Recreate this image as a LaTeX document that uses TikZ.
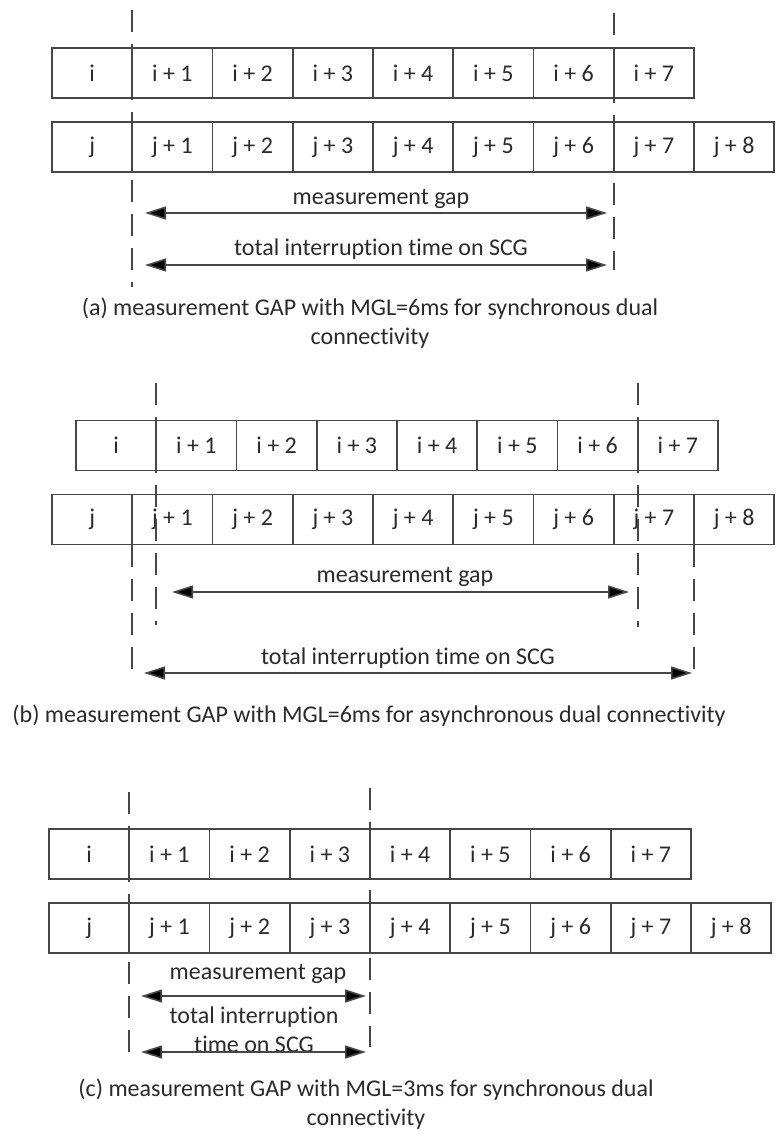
\documentclass[tikz,border=0pt]{standalone}
\usepackage{fontspec}
\setmainfont{Carlito}[Ligatures=NoCommon]
\usetikzlibrary{arrows.meta,positioning}
\definecolor{rim}{HTML}{474747}
\definecolor{ink}{HTML}{2A2A2A}
\newcommand{\slotrow}[5]{% name, letter, left edge, centre y, last index
  \node[slot] (#1-0) at ({#3+40.125},#4) {#2};
  \foreach \k in {1,...,#5}
    \node[slot] (#1-\k) at ({#3+80.25*(\k+0.5)},#4) {#2 + \k};
}
\tikzset{
  every picture/.style = {
    x = 1pt,
    y = -1pt,
    >={Triangle[length=21pt,width=13pt]},
  }
  ,
  slot/.style = {
    rectangle,
    draw = rim,
    line width = 1.6pt,
    minimum width = 80.25pt,
    minimum height = 50pt,
    inner sep = 0pt,
    outer sep = 0pt,
    text = ink,
    font = \fontsize{24}{29}\selectfont
  }
  , % dashed marks
  guide/.style = {
    draw = rim,
    line width = 1.6pt,
    dash pattern = on 22pt off 12pt
  }
  , % gap arrows
  span/.style = {
    <->,
    draw = rim,
    line width = 1.6pt,
    arrows = {Triangle[length=21pt,width=13pt,fill=black]-Triangle[length=21pt,width=13pt,fill=black]}
  }
  , % texts
  lbl/.style = {
    text = ink,
    font = \fontsize{24}{29}\selectfont,
    align = center,
    inner sep = 0pt
  }
}

\begin{document}
\begin{tikzpicture}
  \useasboundingbox (0,0) rectangle (779,1139);

  % (a) synchronous, MGL=6ms
  \slotrow{ai}{i}{52}{73}{7}
  \slotrow{aj}{j}{52}{147}{8}
  \coordinate (aL1) at (ai-1.west |- 0,10);
  \coordinate (aL2) at (ai-1.west |- 0,287);
  \coordinate (aR1) at (ai-7.west |- 0,13);
  \coordinate (aR2) at (ai-7.west |- 0,270);
  \draw[guide] (aL1) -- (aL2);
  \draw[guide] (aR1) -- (aR2);
  \coordinate (aG1) at (145,213);
  \coordinate (aG2) at (607,213);
  \coordinate (aT1) at (145,265);
  \coordinate (aT2) at (607,265);
  \node[lbl] (agap) at (381,199) {measurement gap};
  \node[lbl] (atot) at (381,249) {total interruption time on SCG};
  \path (aG1) edge[span] (aG2);
  \path (aT1) edge[span] (aT2);
  \node[lbl] (acap) at (370,323) {(a) measurement GAP with MGL=6ms for synchronous dual\\connectivity};

  % (b) asynchronous, MGL=6ms
  \slotrow{bi}{i}{76}{445.5}{7}
  \slotrow{bj}{j}{52}{519.5}{8}
  \coordinate (bL1) at (bi-1.west |- 0,383);
  \coordinate (bL2) at (bi-1.west |- 0,625);
  \coordinate (bR1) at (bi-7.west |- 0,383);
  \coordinate (bR2) at (bi-7.west |- 0,627);
  \coordinate (bl1) at (bj-1.south west);
  \coordinate (bl2) at (bj-1.west |- 0,673);
  \coordinate (br1) at (bj-8.south west);
  \coordinate (br2) at (bj-8.west |- 0,673);
  \draw[guide] (bL1) -- (bL2);
  \draw[guide] (bR1) -- (bR2);
  \draw[guide] (bl1) -- (bl2);
  \draw[guide] (br1) -- (br2);
  \coordinate (bG1) at (172,592);
  \coordinate (bG2) at (629,592);
  \coordinate (bT1) at (144,673);
  \coordinate (bT2) at (692,673);
  \node[lbl] (bgap) at (405,577) {measurement gap};
  \node[lbl] (btot) at (408,658) {total interruption time on SCG};
  \path (bG1) edge[span] (bG2);
  \path (bT1) edge[span] (bT2);
  \node[lbl] (bcap) at (369,716) {(b) measurement GAP with MGL=6ms for asynchronous dual connectivity};

  % (c) synchronous, MGL=3ms
  \slotrow{ci}{i}{49}{854}{7}
  \slotrow{cj}{j}{49}{928}{8}
  \coordinate (cL1) at (ci-1.west |- 0,792);
  \coordinate (cL2) at (ci-1.west |- 0,1063);
  \coordinate (cR1) at (ci-4.west |- 0,788);
  \coordinate (cR2) at (ci-4.west |- 0,1047);
  \draw[guide] (cL1) -- (cL2);
  \draw[guide] (cR1) -- (cR2);
  \coordinate (cG1) at (141,996);
  \coordinate (cG2) at (366,996);
  \coordinate (cT1) at (141,1052);
  \coordinate (cT2) at (366,1052);
  \node[lbl] (cgap) at (258,974) {measurement gap};
  \node[lbl] (ctot) at (254,1029.5) {total interruption\\time on SCG};
  \path (cG1) edge[span] (cG2);
  \path (cT1) edge[span] (cT2);
  \node[lbl] (ccap) at (366,1104) {(c) measurement GAP with MGL=3ms for synchronous dual\\connectivity};
\end{tikzpicture}
\end{document}
